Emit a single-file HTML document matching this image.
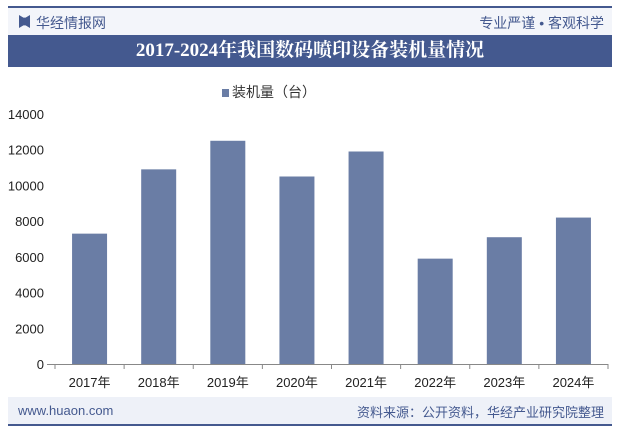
<!DOCTYPE html>
<html><head><meta charset="utf-8"><style>
body{margin:0;width:617px;height:434px;background:#fff;position:relative;overflow:hidden;font-family:"Liberation Sans","Noto Sans CJK SC",sans-serif}
.abs{position:absolute}
</style></head><body>
<div class="abs" style="left:8px;top:6px;width:604px;height:2px;background:#44598f"></div>
<div class="abs" style="left:8px;top:8px;width:604px;height:27px;background:#f3f5fa"></div>
<div class="abs" style="left:19px;top:15px;width:11px;height:13px;background:#44598f;clip-path:polygon(0 0,40% 20%,60% 20%,100% 0,100% 100%,60% 80%,40% 80%,0 100%)"></div>
<div class="abs" style="left:36px;top:13px;font-size:14px;color:#44598f">华经情报网</div>
<div class="abs" style="right:13px;top:13px;font-size:14px;color:#44598f">专业严谨 • 客观科学</div>
<div class="abs" style="left:8px;top:35px;width:604px;height:32px;background:#44598f;color:#fff;font-family:'Liberation Serif','Noto Serif CJK SC',serif;font-weight:bold;font-size:19px;line-height:32px;text-align:center">2017-2024年我国数码喷印设备装机量情况</div>
<div class="abs" style="left:222px;top:82px;font-size:14px;color:#333"><span style="display:inline-block;width:7px;height:8px;background:#6a7da5;margin-right:3px"></span>装机量（台）</div>
<svg class="abs" style="left:0;top:0" width="617" height="434" id="c"></svg>
<div class="abs" style="left:8px;top:397px;width:604px;height:27px;background:#eef1f8"></div>
<div class="abs" style="left:18px;top:403px;font-size:13px;color:#44598f">www.huaon.com</div>
<div class="abs" style="right:13px;top:402px;font-size:13px;color:#44598f">资料来源：公开资料，华经产业研究院整理</div>
<div class="abs" style="left:8px;top:424px;width:604px;height:2px;background:#44598f"></div>
<script>
const categories=["2017年","2018年","2019年","2020年","2021年","2022年","2023年","2024年"];
const values=[7300,10900,12500,10500,11900,5900,7100,8200];
const ticks=[0,2000,4000,6000,8000,10000,12000,14000];
const svg=document.getElementById('c');const NS='http://www.w3.org/2000/svg';
const x0=55,x1=608,y0=364,y1=114,maxV=14000;
const bw=(x1-x0)/categories.length;
const y=v=>y0-(v/maxV)*(y0-y1);
function mk(t,a){const e=document.createElementNS(NS,t);for(const k in a)e.setAttribute(k,a[k]);svg.appendChild(e);return e;}
ticks.forEach(t=>{const e=mk('text',{x:x0-11,y:y(t)+5,'text-anchor':'end','font-size':'13',fill:'#222'});e.textContent=t;

});
values.forEach((v,i)=>{const cx=x0+bw*(i+0.5);const r=mk('rect',{x:cx-17.5,y:y(v),width:35,height:y0-y(v),fill:'#6a7da5'});


const t=mk('text',{x:cx,y:387,'text-anchor':'middle','font-size':'13',fill:'#222'});t.textContent=categories[i];

});
const ax=mk('line',{x1:x0-8,x2:x1,y1:y0+0.5,y2:y0+0.5,stroke:'#888'});


for(let i=0;i<=categories.length;i++){const l=mk('line',{x1:x0+bw*i,x2:x0+bw*i,y1:y0,y2:y0+5,stroke:'#888'});

}
</script>
</body></html>
